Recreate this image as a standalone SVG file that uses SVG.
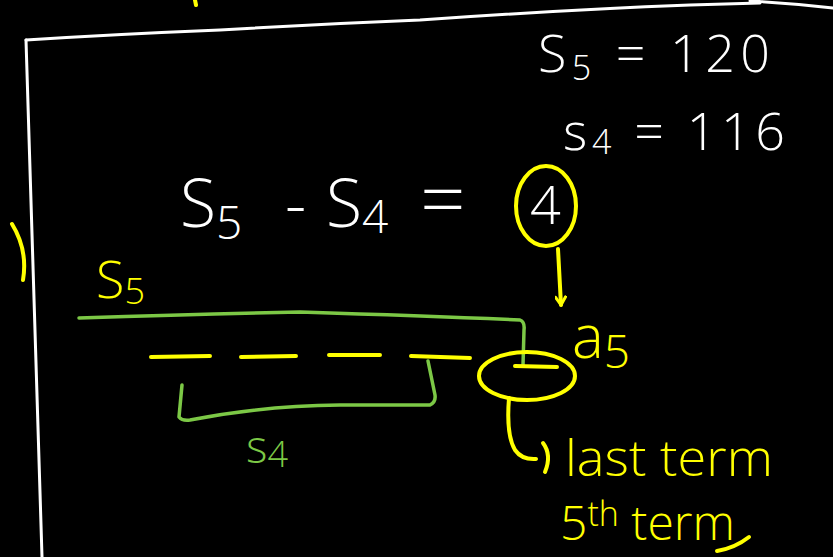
<svg xmlns="http://www.w3.org/2000/svg" width="833" height="557" viewBox="0 0 833 557">
<style>
.s{fill:none;stroke-linecap:round;stroke-linejoin:round}
.w{stroke:#ffffff;stroke-width:3}
.y{stroke:#ffff00;stroke-width:4}
.g{stroke:#7cc846;stroke-width:3.5}
.t{font-family:"Open Sans","Liberation Sans",sans-serif;font-weight:300}
.tw{fill:#ffffff}
.ty{fill:#ffff00}
.tg{fill:#7cc846}
</style>
<defs>
<marker id="ah" viewBox="0 0 12 12" refX="10" refY="6" markerWidth="12" markerHeight="12" markerUnits="userSpaceOnUse" orient="auto">
<path d="M2 1 L10 6 L2 11" fill="none" stroke="#ffff00" stroke-width="3" stroke-linecap="round" stroke-linejoin="round"/>
</marker>
</defs>
<rect width="833" height="557" fill="#000000"/>
<!-- frame -->
<path class="s w" d="M26 40 Q120 34 220 30 Q320 24 420 20 Q560 10 690 5 L760 3"/>
<path class="s w" d="M750 1 Q790 3 833 8"/>
<path class="s w" d="M26 40 Q33 250 42 557"/>
<!-- yellow fragments -->
<path class="s y" d="M195 0 L196 5"/>
<path class="s y" d="M12 224 Q28 250 23 280"/>
<!-- white formulas -->
<text class="t tw" x="538" y="72" font-size="52" textLength="232" lengthAdjust="spacing">S<tspan font-size="34" dy="8">5</tspan><tspan dy="-8"> = 120</tspan></text>
<text class="t tw" x="563" y="150" font-size="52" textLength="222" lengthAdjust="spacing">s<tspan font-size="34" dy="4">4</tspan><tspan dy="-4"> = 116</tspan></text>
<text class="t tw" y="227" font-size="66"><tspan x="180">S</tspan><tspan font-size="46" dy="12">5</tspan><tspan dy="-12" x="285">-</tspan><tspan x="326">S</tspan><tspan font-size="46" dy="6">4</tspan><tspan dy="-6" x="420" font-size="80">=</tspan></text>
<text class="t tw" x="530" y="224" font-size="54">4</text>
<ellipse class="s y" cx="546" cy="206" rx="30" ry="40"/>
<!-- arrow to a5 -->
<path class="s y" d="M558 249 L561 305" marker-end="url(#ah)"/>
<text class="t ty" x="572" y="358" font-size="60">a<tspan font-size="46" dy="10">5</tspan></text>
<!-- S5 label -->
<text class="t ty" x="96" y="298" font-size="52">S<tspan font-size="36" dy="6">5</tspan></text>
<!-- green S5 line -->
<path class="s g" d="M79 318 Q200 314 300 312 Q430 316 520 320 Q525 322 524 330 L523 365"/>
<!-- dashes -->
<path class="s y" d="M151 357 L210 356 M241 357 L296 356 M329 355 L380 355 M411 356 L470 358"/>
<!-- S4 bracket -->
<path class="s g" d="M182 385 L179 417 Q182 421 190 420 Q260 406 340 405 L430 405 Q436 402 435 395 L428 361"/>
<text class="t tg" x="246" y="463" font-size="46">s<tspan font-size="36" dy="4">4</tspan></text>
<!-- circled last term -->
<ellipse class="s y" cx="527" cy="376" rx="48" ry="24"/>
<path class="s y" d="M515 366 L557 367"/>
<path class="s y" d="M509 398 Q506 435 515 450 Q522 460 536 459"/>
<path class="s y" d="M543 443 Q552 455 545 472"/>
<text class="t ty" x="565" y="476" font-size="50" textLength="208" lengthAdjust="spacingAndGlyphs">last term</text>
<text class="t ty" x="560" y="540" font-size="48">5<tspan font-size="34" dy="-14">th</tspan><tspan dy="14"> term</tspan></text>
<path class="s y" d="M717 551 Q735 548 749 537"/>
</svg>
